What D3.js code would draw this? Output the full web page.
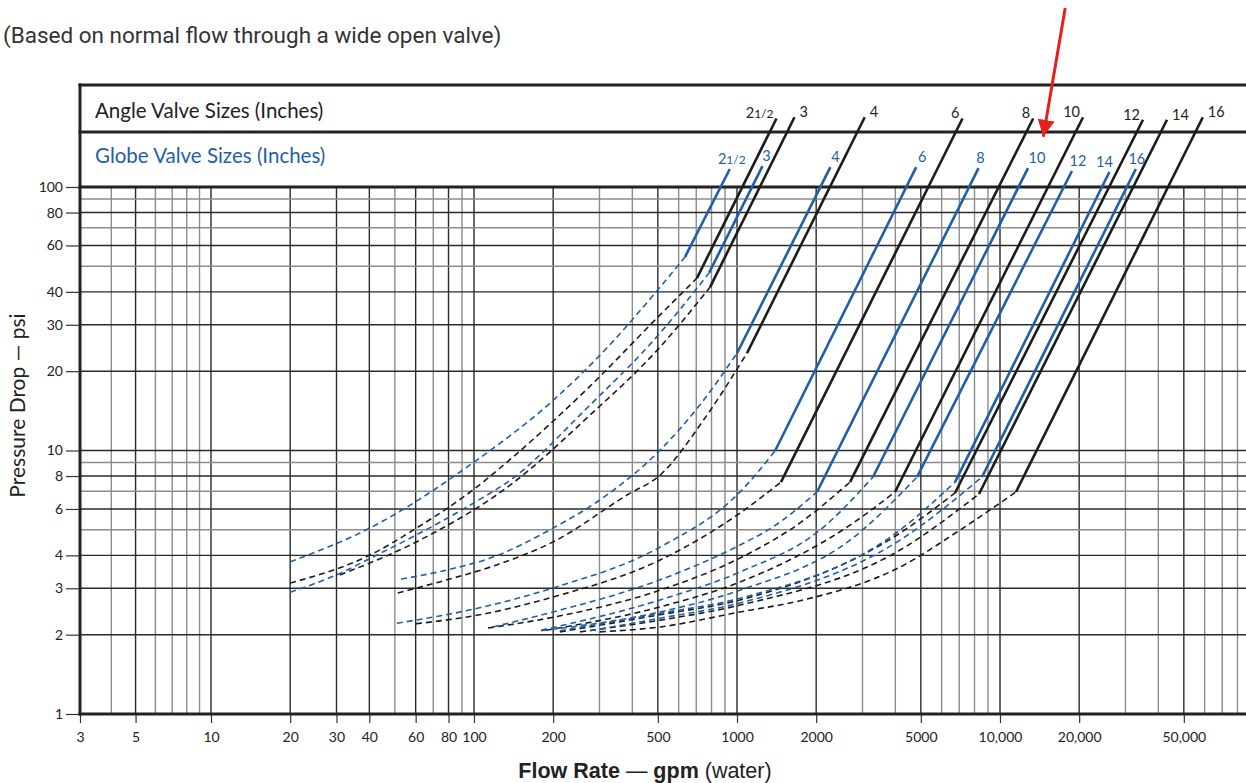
<!DOCTYPE html>
<html lang="en">
<head>
  <meta charset="UTF-8">
  <title>Valve pressure drop chart</title>
  <script src="https://d3js.org/d3.v7.min.js"></script>
  <style>
    body { margin: 0; background: #fff; }
    svg text { fill: #222; }
  </style>
</head>
<body>
  <div id="chart"></div>
  <script>
    // valve sizes (inches), same order for angle and globe valves
    const sizes = ["21/2", "3", "4", "6", "8", "10", "12", "14", "16"];

    // straight (solid) part of each curve: [gpm, psi] at the knee and at the top
    const angleLow = [[704, 45.1], [790, 41.7], [1091, 23.4], [1470, 7.59], [2690, 7.59], [3989, 6.96], [6744, 6.90], [8322, 6.84], [11503, 6.96]];
    const angleTop = [[1413, 182], [1654, 184], [3059, 184], [7201, 182], [13373, 182], [20685, 184], [34970, 180], [43152, 180], [59033, 184]];
    const globeLow = [[634, 54.2], [783, 47.2], [1000, 23.4], [1395, 9.96], [2015, 6.96], [3289, 7.93], [4834, 7.93], [6744, 7.59], [8543, 7.93]];
    const globeTop = [[939, 117], [1250, 120], [2265, 119], [4801, 119], [8287, 118], [12779, 118], [18770, 115], [26062, 114], [32838, 117]];

    // dashed lead-in curves (up to the knee)
    const angleDash = [
      [[20, 3.14], [40.2, 4.01], [60.5, 5.08], [99, 7.08], [140.7, 9.45], [269, 17.1], [510, 32.7]],
      [[30.9, 3.37], [62.3, 4.57], [140.7, 7.53], [269, 13.3], [510, 24.7]],
      [[51.3, 2.88], [78.9, 3.23], [122, 3.68], [200, 4.50], [382, 6.78], [510, 8.07], [756, 13.3]],
      [[60.2, 2.20], [105, 2.38], [200, 2.78], [510, 3.84], [1027, 5.79]],
      [[113, 2.12], [200, 2.33], [510, 2.95], [1027, 3.91], [1736, 5.31]],
      [[188, 2.08], [510, 2.55], [1027, 3.17], [2690, 5.21]],
      [[212, 2.05], [510, 2.38], [1027, 2.71], [4167, 4.86]],
      [[253, 2.05], [510, 2.27], [1027, 2.59], [4167, 4.19]],
      [[301, 2.05], [510, 2.14], [1027, 2.44], [1736, 2.69], [4167, 3.61], [7045, 4.99]]
    ];
    const globeDash = [
      [[20, 3.78], [40.2, 5.08], [99, 8.97], [200, 15.5], [320, 24.5], [510, 41.7]],
      [[20, 2.90], [31.2, 3.43], [40.6, 3.91], [62.3, 4.86], [94.1, 6.11], [140.7, 7.86], [269, 14.5], [510, 27.9]],
      [[52.8, 3.25], [78.9, 3.52], [118, 3.94], [200, 5.08], [301, 6.49], [510, 10.04], [723, 14.9]],
      [[50.9, 2.21], [105, 2.53], [200, 3.01], [510, 4.30], [1027, 6.96]],
      [[118, 2.14], [200, 2.44], [510, 3.23], [1027, 4.38], [1370, 5.13]],
      [[180, 2.08], [510, 2.71], [1027, 3.46], [2068, 4.99]],
      [[180, 2.07], [510, 2.44], [1027, 2.95], [2690, 4.57]],
      [[212, 2.07], [510, 2.41], [1027, 2.75], [4167, 4.99]],
      [[276, 2.07], [510, 2.31], [1027, 2.64], [4167, 4.57]]
    ];

    const xTicks = [3, 5, 10, 20, 30, 40, 60, 80, 100, 200, 500, 1000, 2000, 5000, 10000, 20000, 50000];
    const yTicks = [1, 2, 3, 4, 6, 8, 10, 20, 30, 40, 60, 80, 100];
    const gridSteps = [1, 2, 3, 4, 5, 6, 7, 8, 9];

    // red pointer: [gpm, psi] of tail and tip
    const arrowTail = [17700, 478];
    const arrowTip = [14600, 155];

    const width = 1246, height = 783;
    const left = 80, headerTop = 85, headerMid = 132;
    const blue = "#1f5fa8", black = "#1c1c1c";

    const svg = d3.select("#chart").append("svg")
      .attr("width", width).attr("height", height)
      .style("font-family", "Lato, 'Open Sans', sans-serif");

    const x = d3.scaleLog().domain([3, 10, 10000]).range([left, 211, 1000]);
    const y = d3.scaleLog().domain([1, 100]).range([714, 187]);
    const yBottom = y(1), yTop = y(100);

    // grid
    const xGrid = [];
    [1, 10, 100, 1000, 10000].forEach(p => gridSteps.forEach(s => { if (s * p >= 4 && s * p <= 90000) xGrid.push(s * p); }));
    const yGrid = [];
    [1, 10].forEach(p => gridSteps.forEach(s => { if (s * p > 1) yGrid.push(s * p); }));

    svg.append("g").selectAll("line").data(xGrid).join("line")
      .attr("x1", d => x(d)).attr("x2", d => x(d))
      .attr("y1", yTop).attr("y2", yBottom)
      .attr("stroke", d => xTicks.includes(d) ? "#2a2a2a" : "#8c8c8c")
      .attr("stroke-width", 1.4);

    svg.append("g").selectAll("line").data(yGrid).join("line")
      .attr("x1", left).attr("x2", width)
      .attr("y1", d => y(d)).attr("y2", d => y(d))
      .attr("stroke", d => yTicks.includes(d) ? "#2a2a2a" : "#8c8c8c")
      .attr("stroke-width", 1.4);

    // axes
    const fmt = d => d >= 10000 ? d3.format(",")(d) : d;
    const xAxis = svg.append("g")
      .attr("transform", `translate(0,${yBottom})`)
      .call(d3.axisBottom(x).tickValues(xTicks).tickFormat(fmt).tickSize(9).tickPadding(9));
    const yAxis = svg.append("g")
      .attr("transform", `translate(${left},0)`)
      .call(d3.axisLeft(y).tickValues(yTicks).tickFormat(d3.format("d")).tickSize(14).tickPadding(3));
    [xAxis, yAxis].forEach(g => {
      g.select(".domain").remove();
      g.selectAll(".tick line").attr("stroke", "#333").attr("stroke-width", 1.2);
      g.selectAll(".tick text").attr("fill", "#222").style("font-size", "14px").style("font-family", "Lato, sans-serif");
    });

    // frame and header boxes
    const frame = svg.append("g").attr("stroke", "#222").attr("stroke-width", 3);
    [headerTop, headerMid, yTop, yBottom].forEach(v => {
      frame.append("line").attr("x1", left - 1.5).attr("x2", width).attr("y1", v).attr("y2", v);
    });
    frame.append("line").attr("x1", left).attr("x2", left).attr("y1", headerTop - 1.5).attr("y2", yBottom + 1.5);

    svg.append("text").attr("x", 95).attr("y", 118)
      .style("font-size", "20.5px").text("Angle Valve Sizes (Inches)");
    svg.append("text").attr("x", 95).attr("y", 163)
      .style("font-size", "20.5px").style("fill", blue).text("Globe Valve Sizes (Inches)");

    // curves
    const line = d3.line().x(d => x(d[0])).y(d => y(d[1])).curve(d3.curveMonotoneX);

    function drawSet(dash, low, top, color) {
      const g = svg.append("g");
      g.selectAll("path.dash").data(dash).join("path")
        .attr("class", "dash")
        .attr("d", (d, i) => line(d.concat([low[i]])))
        .attr("fill", "none").attr("stroke", color)
        .attr("stroke-width", 1.6).attr("stroke-dasharray", "6,4");
      g.selectAll("line.solid").data(low).join("line")
        .attr("class", "solid")
        .attr("x1", d => x(d[0])).attr("y1", d => y(d[1]))
        .attr("x2", (d, i) => x(top[i][0])).attr("y2", (d, i) => y(top[i][1]))
        .attr("stroke", color).attr("stroke-width", 2.6);
    }
    drawSet(angleDash, angleLow, angleTop, black);
    drawSet(globeDash, globeLow, globeTop, blue);

    // size labels
    const angleAnchor = ["end", "start", "start", "end", "end", "end", "end", "start", "start"];
    const globeShift = [2, 4, 5, 6, 2, 9, 6, -5, 1];

    function sizeLabel(sel, s) {
      if (s === "21/2") {
        sel.append("tspan").text("2");
        sel.append("tspan").style("font-size", "12px").text("1/2");
      } else {
        sel.text(s);
      }
    }

    svg.append("g").selectAll("text").data(sizes).join("text")
      .attr("x", (d, i) => x(angleTop[i][0]) + (angleAnchor[i] === "end" ? -3 : 5))
      .attr("y", (d, i) => y(angleTop[i][1]))
      .attr("text-anchor", (d, i) => angleAnchor[i])
      .style("font-size", "14.5px")
      .each(function (d) { sizeLabel(d3.select(this), d); });

    svg.append("g").selectAll("text").data(sizes).join("text")
      .attr("x", (d, i) => x(globeTop[i][0]) + globeShift[i])
      .attr("y", (d, i) => y(globeTop[i][1]) - 5)
      .attr("text-anchor", "middle")
      .style("font-size", "14.5px").style("fill", blue)
      .each(function (d) { sizeLabel(d3.select(this), d); });

    // titles
    svg.append("text").attr("x", 3).attr("y", 43)
      .style("font-family", "Roboto, sans-serif").style("font-size", "22.5px").style("fill", "#333")
      .text("(Based on normal flow through a wide open valve)");

    svg.append("text")
      .attr("transform", `translate(25,${(yTop + yBottom) / 2 - 45}) rotate(-90)`)
      .attr("text-anchor", "middle")
      .style("font-size", "21px")
      .text("Pressure Drop \u2014 psi");

    const xt = svg.append("text").attr("x", 645).attr("y", 778)
      .attr("text-anchor", "middle")
      .style("font-family", "'Liberation Sans', Arial, sans-serif").style("font-size", "21.5px");
    xt.append("tspan").style("font-weight", "bold").text("Flow Rate");
    xt.append("tspan").text(" \u2014 ");
    xt.append("tspan").style("font-weight", "bold").text("gpm");
    xt.append("tspan").text(" (water)");

    // red pointer
    svg.append("defs").append("marker")
      .attr("id", "head").attr("viewBox", "0 0 10 10")
      .attr("refX", 10).attr("refY", 5)
      .attr("markerUnits", "userSpaceOnUse")
      .attr("markerWidth", 17).attr("markerHeight", 17)
      .attr("orient", "auto")
      .append("path").attr("d", "M0,0L10,5L0,10Z").attr("fill", "#e8201c");

    svg.append("line")
      .attr("x1", x(arrowTail[0])).attr("y1", y(arrowTail[1]))
      .attr("x2", x(arrowTip[0])).attr("y2", y(arrowTip[1]))
      .attr("stroke", "#e8201c").attr("stroke-width", 3)
      .attr("marker-end", "url(#head)");
  </script>
</body>
</html>
